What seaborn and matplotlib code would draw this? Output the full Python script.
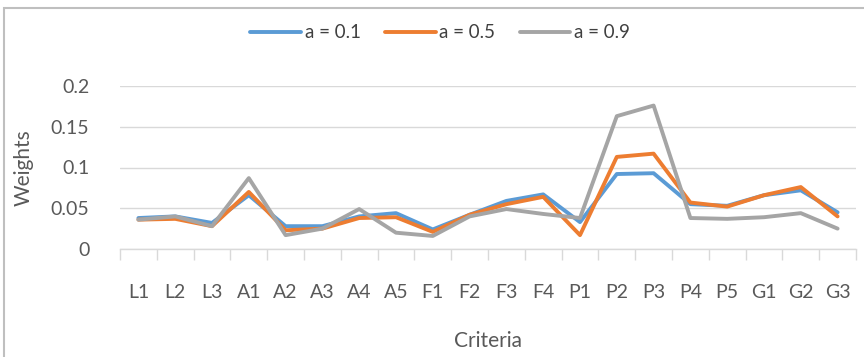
import matplotlib
matplotlib.use("Agg")
import matplotlib.pyplot as plt
from matplotlib.patches import Rectangle
from matplotlib.ticker import FixedLocator, NullFormatter
import seaborn as sns
import pandas as pd

criteria = ["L1", "L2", "L3", "A1", "A2", "A3", "A4", "A5", "F1", "F2",
            "F3", "F4", "P1", "P2", "P3", "P4", "P5", "G1", "G2", "G3"]
w_a01 = [0.038, 0.040, 0.032, 0.066, 0.028, 0.028, 0.040, 0.044, 0.024, 0.042,
         0.059, 0.067, 0.033, 0.092, 0.093, 0.055, 0.053, 0.066, 0.072, 0.045]
w_a05 = [0.036, 0.037, 0.028, 0.070, 0.023, 0.025, 0.038, 0.039, 0.021, 0.042,
         0.055, 0.064, 0.017, 0.113, 0.117, 0.057, 0.052, 0.066, 0.076, 0.040]
w_a09 = [0.036, 0.040, 0.028, 0.087, 0.017, 0.025, 0.049, 0.020, 0.016, 0.040,
         0.049, 0.043, 0.038, 0.163, 0.176, 0.038, 0.037, 0.039, 0.044, 0.025]
series_labels = ["a = 0.1", "a = 0.5", "a = 0.9"]
yticks = [0, 0.05, 0.1, 0.15, 0.2]
ytick_labels = ["0", "0.05", "0.1", "0.15", "0.2"]

sns.set_theme(style="white")
plt.rcParams["font.family"] = ["Lato", "DejaVu Sans"]

rows = []
for lab, vals in zip(series_labels, [w_a01, w_a05, w_a09]):
    for i, (c, v) in enumerate(zip(criteria, vals)):
        rows.append({"idx": i, "Criteria": c, "Weight": v, "series": lab})
df = pd.DataFrame(rows)

palette = {"a = 0.1": "#5B9BD5", "a = 0.5": "#ED7D31", "a = 0.9": "#A5A5A5"}

fig = plt.figure(figsize=(8.64, 3.57), dpi=100)
W, H = 864, 357
ax = fig.add_axes([120 / W, 1 - 249 / H, (856 - 120) / W, (249 - 86) / H])

sns.lineplot(data=df, x="idx", y="Weight", hue="series", palette=palette,
             linewidth=2.8, ax=ax, legend=True, sort=False)

ax.set_xlim(-0.5, len(criteria) - 0.5)
ax.set_ylim(0, 0.2)
ax.set_yticks(yticks)
ax.set_yticklabels(ytick_labels)
ax.set_xticks(range(len(criteria)))
ax.set_xticklabels(criteria)
ax.xaxis.set_minor_locator(FixedLocator([i - 0.5 for i in range(len(criteria) + 1)]))
ax.xaxis.set_minor_formatter(NullFormatter())
ax.tick_params(axis="x", which="major", length=0, pad=25, labelsize=14, labelcolor="#595959")
ax.tick_params(axis="x", which="minor", length=8, width=1, color="#d9d9d9", bottom=True)
ax.tick_params(axis="y", length=0, pad=22, labelsize=14, labelcolor="#595959")

ax.grid(axis="y", color="#d9d9d9", linewidth=1)
ax.set_axisbelow(True)
for s in ["top", "right", "left"]:
    ax.spines[s].set_visible(False)
ax.spines["bottom"].set_color("#d9d9d9")
ax.spines["bottom"].set_linewidth(1)

ax.set_xlabel("Criteria", fontsize=15, color="#595959", labelpad=22)
ax.set_ylabel("Weights", fontsize=15, color="#595959", labelpad=12)

handles, labels = ax.get_legend_handles_labels()
ax.legend_.remove()
fig.legend(handles, labels, loc="center", bbox_to_anchor=(440 / W, 1 - 33 / H),
           ncol=3, frameon=False, fontsize=13.5, handlelength=2.7,
           handletextpad=0.2, columnspacing=1.3, labelcolor="#404040")

# chart border
fig.patches.append(Rectangle((4 / W, -0.1), 1.2, 1 - 8 / H + 0.1,
                             transform=fig.transFigure, fill=False,
                             edgecolor="#bfbfbf", linewidth=1.5))

fig.savefig("out.png", dpi=100)
